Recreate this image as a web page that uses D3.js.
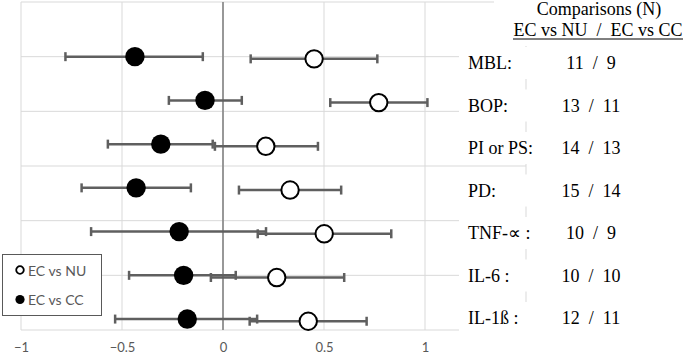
<!DOCTYPE html>
<html>
<head>
<meta charset="utf-8">
<script src="https://cdn.jsdelivr.net/npm/d3@7"></script>
<style>
  html, body { margin: 0; padding: 0; background: #fff; }
  svg { display: block; }
</style>
</head>
<body>
<div id="chart"></div>
<script>
// Outcomes, top to bottom
const outcomes = ["MBL:", "BOP:", "PI or PS:", "PD:", "TNF-\u221D :", "IL-6 :", "IL-1\u00DF :"];
// row position on the (hidden) y axis, 0..6
const rowPos = [5.0, 4.2, 3.4, 2.6, 1.8, 1.0, 0.2];

// EC vs CC (filled)
const ccMean  = [-0.436, -0.089, -0.308, -0.430, -0.217, -0.195, -0.177];
const ccLower = [-0.780, -0.268, -0.570, -0.700, -0.653, -0.465, -0.534];
const ccUpper = [-0.100,  0.093, -0.051, -0.159,  0.213,  0.063,  0.169];

// EC vs NU (open)
const nuMean  = [0.451, 0.771, 0.212, 0.332, 0.501, 0.266, 0.422];
const nuLower = [0.137, 0.531, -0.040, 0.079, 0.172, -0.060, 0.132];
const nuUpper = [0.764, 1.012, 0.470, 0.585, 0.833, 0.600, 0.711];

// number of comparisons
const nNU = [11, 13, 14, 15, 10, 10, 12];
const nCC = [9, 11, 13, 14, 9, 10, 11];

const xTicks = [-1, -0.5, 0, 0.5, 1];
const xGrid = [-1, -0.5, 0, 0.5, 1, 1.5];
const yGrid = [0, 1, 2, 3, 4, 5, 6];

const width = 685, height = 357;
const svg = d3.select("#chart").append("svg")
  .attr("width", width)
  .attr("height", height);

const x = d3.scaleLinear().domain([-1, 1.5]).range([21, 526]);
const y = d3.scaleLinear().domain([0, 6]).range([330, 2]);
const nuShift = -0.04; // open markers sit a hair lower

const gridColor = "#d9d9d9";
const barColor = "#5f5f5f";
const textGrey = "#595959";

// grid
svg.append("g").selectAll("line").data(xGrid).join("line")
  .attr("x1", d => x(d)).attr("x2", d => x(d))
  .attr("y1", y(6)).attr("y2", y(0))
  .attr("stroke", gridColor).attr("stroke-width", 1);
svg.append("g").selectAll("line").data(yGrid).join("line")
  .attr("x1", x(-1)).attr("x2", x(1.5))
  .attr("y1", d => y(d)).attr("y2", d => y(d))
  .attr("stroke", gridColor).attr("stroke-width", 1);

// zero line
svg.append("line")
  .attr("x1", x(0)).attr("x2", x(0))
  .attr("y1", y(6)).attr("y2", y(0))
  .attr("stroke", "#8c8c8c").attr("stroke-width", 1.75);

// x axis labels
const xAxis = svg.append("g")
  .attr("transform", `translate(0, ${y(0)})`)
  .call(d3.axisBottom(x).tickValues(xTicks).tickSize(0).tickPadding(13)
    .tickFormat(d => d3.format("")(d)));
xAxis.select(".domain").remove();
xAxis.selectAll("text")
  .attr("fill", textGrey)
  .style("font-family", "Lato, 'Open Sans', sans-serif")
  .style("font-size", "13px");

// series rows
const rows = outcomes.map((o, i) => ({
  o,
  pos: rowPos[i],
  cc: [ccMean[i], ccLower[i], ccUpper[i]],
  nu: [nuMean[i], nuLower[i], nuUpper[i]],
}));

function errorBars(g, key, shift) {
  const bars = g.append("g").selectAll("g").data(rows).join("g")
    .attr("transform", d => `translate(0, ${y(d.pos + shift)})`);
  bars.append("line")
    .attr("x1", d => x(d[key][1])).attr("x2", d => x(d[key][2]))
    .attr("stroke", barColor).attr("stroke-width", 2.5);
  bars.selectAll("line.cap").data(d => [d[key][1], d[key][2]]).join("line")
    .attr("class", "cap")
    .attr("x1", d => x(d)).attr("x2", d => x(d))
    .attr("y1", -4.5).attr("y2", 4.5)
    .attr("stroke", barColor).attr("stroke-width", 2.5);
}

const plot = svg.append("g");
errorBars(plot, "cc", 0);
errorBars(plot, "nu", nuShift);

plot.append("g").selectAll("circle").data(rows).join("circle")
  .attr("cx", d => x(d.cc[0])).attr("cy", d => y(d.pos))
  .attr("r", 9.7).attr("fill", "#000");
plot.append("g").selectAll("circle").data(rows).join("circle")
  .attr("cx", d => x(d.nu[0])).attr("cy", d => y(d.pos + nuShift))
  .attr("r", 8.7).attr("fill", "#fff")
  .attr("stroke", "#000").attr("stroke-width", 2);

// right-side table (boxes hide the grid beneath)
const serif = "'Liberation Serif', 'Times New Roman', serif";
const labelY = d3.scalePoint().domain(outcomes).range([69, 324]);

svg.append("rect").attr("x", 494).attr("y", 0).attr("width", 191).attr("height", 46)
  .attr("fill", "#fff");
svg.append("g").selectAll("rect").data(outcomes).join("rect")
  .attr("x", 459).attr("y", d => labelY(d) - 22)
  .attr("width", 226).attr("height", 32)
  .attr("fill", "#fff");

svg.append("text")
  .attr("x", 599).attr("y", 15)
  .attr("text-anchor", "middle")
  .style("font-family", serif).style("font-size", "18px")
  .text("Comparisons (N)");
svg.append("text")
  .attr("x", 598).attr("y", 36)
  .attr("text-anchor", "middle")
  .style("font-family", serif).style("font-size", "18px")
  .style("white-space", "pre")
  .text("EC vs NU  /  EC vs CC");
svg.append("line")
  .attr("x1", 513).attr("x2", 683).attr("y1", 39).attr("y2", 39)
  .attr("stroke", "#000").attr("stroke-width", 1);

const table = svg.append("g").style("font-family", serif).style("font-size", "18px");
table.selectAll("text.lab").data(outcomes).join("text")
  .attr("class", "lab")
  .attr("x", 468).attr("y", d => labelY(d))
  .text(d => d);
table.selectAll("text.n").data(outcomes).join("text")
  .attr("class", "n")
  .attr("x", 591).attr("y", d => labelY(d))
  .attr("text-anchor", "middle")
  .style("white-space", "pre")
  .text((d, i) => `${nNU[i]}  /  ${nCC[i]}`);

// legend
const legend = svg.append("g");
legend.append("rect")
  .attr("x", 2.5).attr("y", 254.5).attr("width", 99).attr("height", 61)
  .attr("fill", "#fff").attr("stroke", "#595959").attr("stroke-width", 1);
const legendItems = [
  { label: "EC vs NU", open: true },
  { label: "EC vs CC", open: false },
];
const li = legend.selectAll("g.item").data(legendItems).join("g")
  .attr("class", "item")
  .attr("transform", (d, i) => `translate(20, ${270 + i * 29.5})`);
li.append("circle")
  .attr("r", d => d.open ? 3.8 : 4.6)
  .attr("fill", d => d.open ? "#fff" : "#000")
  .attr("stroke", "#000")
  .attr("stroke-width", d => d.open ? 1.8 : 0);
li.append("text")
  .attr("x", 8).attr("y", 5.5)
  .attr("fill", textGrey)
  .style("font-family", "Lato, 'Open Sans', sans-serif")
  .style("font-size", "14px")
  .text(d => d.label);
</script>
</body>
</html>
